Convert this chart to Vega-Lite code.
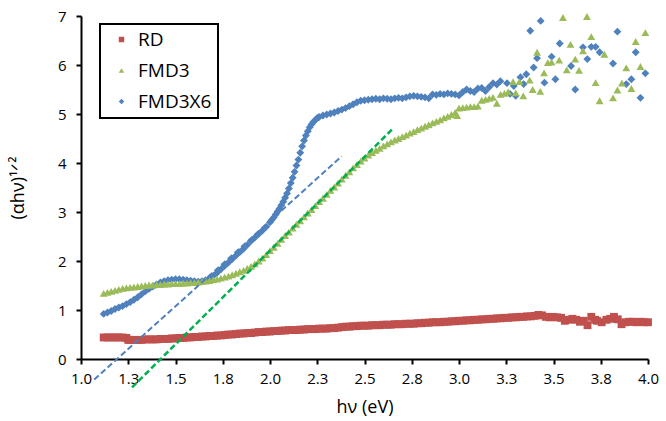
{
  "$schema": "https://vega.github.io/schema/vega-lite/v6.json",
  "autosize": {"type": "none"},
  "padding": {"left": 81, "top": 16, "right": 18, "bottom": 62},
  "width": 567,
  "height": 343,
  "config": {
    "view": {"stroke": null},
    "font": "Open Sans",
    "axis": {
      "grid": false,
      "domainColor": "black",
      "domainWidth": 2,
      "tickColor": "black",
      "tickWidth": 2,
      "tickSize": 5,
      "labelColor": "black",
      "labelFont": "Open Sans",
      "labelFontSize": 15,
      "labelFlush": false,
      "titleColor": "black",
      "titleFont": "Open Sans",
      "titleFontSize": 18,
      "titleFontWeight": "normal"
    },
    "legend": {
      "strokeColor": "black",
      "strokeWidth": 2,
      "fillColor": "white",
      "padding": 6,
      "rowPadding": 11,
      "labelFont": "Open Sans",
      "labelFontSize": 19,
      "labelColor": "black",
      "symbolSize": 30,
      "symbolOffset": 6,
      "labelOffset": 7,
      "symbolStrokeWidth": 0
    }
  },
  "datasets": {
    "spectra": [
      {"s":"RD","x":1.12,"y":0.44},{"s":"RD","x":1.14,"y":0.44},{"s":"RD","x":1.16,"y":0.44},{"s":"RD","x":1.18,"y":0.44},{"s":"RD","x":1.20,"y":0.44},{"s":"RD","x":1.22,"y":0.44},{"s":"RD","x":1.24,"y":0.43},{"s":"RD","x":1.25,"y":0.39},{"s":"RD","x":1.26,"y":0.39},{"s":"RD","x":1.28,"y":0.39},{"s":"RD","x":1.30,"y":0.39},{"s":"RD","x":1.32,"y":0.39},{"s":"RD","x":1.34,"y":0.40},{"s":"RD","x":1.36,"y":0.40},{"s":"RD","x":1.38,"y":0.40},{"s":"RD","x":1.40,"y":0.40},{"s":"RD","x":1.42,"y":0.41},{"s":"RD","x":1.44,"y":0.41},{"s":"RD","x":1.46,"y":0.41},{"s":"RD","x":1.48,"y":0.42},{"s":"RD","x":1.50,"y":0.42},{"s":"RD","x":1.52,"y":0.43},{"s":"RD","x":1.54,"y":0.43},{"s":"RD","x":1.56,"y":0.44},{"s":"RD","x":1.58,"y":0.44},{"s":"RD","x":1.60,"y":0.45},{"s":"RD","x":1.62,"y":0.45},{"s":"RD","x":1.64,"y":0.46},{"s":"RD","x":1.66,"y":0.46},{"s":"RD","x":1.68,"y":0.47},{"s":"RD","x":1.70,"y":0.47},{"s":"RD","x":1.72,"y":0.48},{"s":"RD","x":1.74,"y":0.48},{"s":"RD","x":1.76,"y":0.49},{"s":"RD","x":1.78,"y":0.50},{"s":"RD","x":1.80,"y":0.50},{"s":"RD","x":1.82,"y":0.51},{"s":"RD","x":1.84,"y":0.52},{"s":"RD","x":1.86,"y":0.52},{"s":"RD","x":1.88,"y":0.53},{"s":"RD","x":1.90,"y":0.53},{"s":"RD","x":1.92,"y":0.54},{"s":"RD","x":1.94,"y":0.55},{"s":"RD","x":1.96,"y":0.55},{"s":"RD","x":1.98,"y":0.56},{"s":"RD","x":2.00,"y":0.56},{"s":"RD","x":2.02,"y":0.57},{"s":"RD","x":2.04,"y":0.57},{"s":"RD","x":2.06,"y":0.58},{"s":"RD","x":2.08,"y":0.58},{"s":"RD","x":2.10,"y":0.59},{"s":"RD","x":2.12,"y":0.59},{"s":"RD","x":2.14,"y":0.59},{"s":"RD","x":2.16,"y":0.60},{"s":"RD","x":2.18,"y":0.60},{"s":"RD","x":2.20,"y":0.61},{"s":"RD","x":2.22,"y":0.61},{"s":"RD","x":2.24,"y":0.61},{"s":"RD","x":2.26,"y":0.62},{"s":"RD","x":2.28,"y":0.62},{"s":"RD","x":2.30,"y":0.62},{"s":"RD","x":2.32,"y":0.63},{"s":"RD","x":2.34,"y":0.63},{"s":"RD","x":2.36,"y":0.64},{"s":"RD","x":2.38,"y":0.65},{"s":"RD","x":2.40,"y":0.66},{"s":"RD","x":2.42,"y":0.66},{"s":"RD","x":2.44,"y":0.67},{"s":"RD","x":2.46,"y":0.67},{"s":"RD","x":2.48,"y":0.68},{"s":"RD","x":2.50,"y":0.68},{"s":"RD","x":2.52,"y":0.68},{"s":"RD","x":2.54,"y":0.69},{"s":"RD","x":2.56,"y":0.69},{"s":"RD","x":2.58,"y":0.69},{"s":"RD","x":2.60,"y":0.70},{"s":"RD","x":2.62,"y":0.70},{"s":"RD","x":2.64,"y":0.70},{"s":"RD","x":2.66,"y":0.71},{"s":"RD","x":2.68,"y":0.71},{"s":"RD","x":2.70,"y":0.71},{"s":"RD","x":2.72,"y":0.72},{"s":"RD","x":2.74,"y":0.72},{"s":"RD","x":2.76,"y":0.72},{"s":"RD","x":2.78,"y":0.73},{"s":"RD","x":2.80,"y":0.73},{"s":"RD","x":2.82,"y":0.74},{"s":"RD","x":2.84,"y":0.74},{"s":"RD","x":2.86,"y":0.75},{"s":"RD","x":2.88,"y":0.75},{"s":"RD","x":2.90,"y":0.75},{"s":"RD","x":2.92,"y":0.76},{"s":"RD","x":2.94,"y":0.76},{"s":"RD","x":2.96,"y":0.77},{"s":"RD","x":2.98,"y":0.77},{"s":"RD","x":3.00,"y":0.78},{"s":"RD","x":3.02,"y":0.78},{"s":"RD","x":3.04,"y":0.79},{"s":"RD","x":3.06,"y":0.79},{"s":"RD","x":3.08,"y":0.80},{"s":"RD","x":3.10,"y":0.80},{"s":"RD","x":3.12,"y":0.81},{"s":"RD","x":3.14,"y":0.81},{"s":"RD","x":3.16,"y":0.82},{"s":"RD","x":3.18,"y":0.82},{"s":"RD","x":3.20,"y":0.83},{"s":"RD","x":3.22,"y":0.83},{"s":"RD","x":3.24,"y":0.84},{"s":"RD","x":3.26,"y":0.84},{"s":"RD","x":3.28,"y":0.85},{"s":"RD","x":3.30,"y":0.85},{"s":"RD","x":3.32,"y":0.86},{"s":"RD","x":3.34,"y":0.86},{"s":"RD","x":3.36,"y":0.87},{"s":"RD","x":3.38,"y":0.87},{"s":"RD","x":3.40,"y":0.88},{"s":"RD","x":3.42,"y":0.90},{"s":"RD","x":3.44,"y":0.89},{"s":"RD","x":3.46,"y":0.86},{"s":"RD","x":3.48,"y":0.85},{"s":"RD","x":3.50,"y":0.86},{"s":"RD","x":3.52,"y":0.85},{"s":"RD","x":3.54,"y":0.84},{"s":"RD","x":3.56,"y":0.78},{"s":"RD","x":3.58,"y":0.80},{"s":"RD","x":3.60,"y":0.82},{"s":"RD","x":3.62,"y":0.80},{"s":"RD","x":3.64,"y":0.76},{"s":"RD","x":3.66,"y":0.78},{"s":"RD","x":3.68,"y":0.69},{"s":"RD","x":3.70,"y":0.86},{"s":"RD","x":3.72,"y":0.80},{"s":"RD","x":3.73,"y":0.78},{"s":"RD","x":3.755,"y":0.75},{"s":"RD","x":3.78,"y":0.80},{"s":"RD","x":3.80,"y":0.82},{"s":"RD","x":3.82,"y":0.86},{"s":"RD","x":3.84,"y":0.81},{"s":"RD","x":3.86,"y":0.71},{"s":"RD","x":3.88,"y":0.75},{"s":"RD","x":3.90,"y":0.76},{"s":"RD","x":3.92,"y":0.76},{"s":"RD","x":3.94,"y":0.75},{"s":"RD","x":3.96,"y":0.76},{"s":"RD","x":3.98,"y":0.75},{"s":"RD","x":4.00,"y":0.75},

      {"s":"FMD3","x":1.12,"y":1.34},{"s":"FMD3","x":1.14,"y":1.36},{"s":"FMD3","x":1.16,"y":1.38},{"s":"FMD3","x":1.18,"y":1.40},{"s":"FMD3","x":1.20,"y":1.42},{"s":"FMD3","x":1.22,"y":1.44},{"s":"FMD3","x":1.24,"y":1.45},{"s":"FMD3","x":1.26,"y":1.46},{"s":"FMD3","x":1.28,"y":1.47},{"s":"FMD3","x":1.30,"y":1.48},{"s":"FMD3","x":1.32,"y":1.49},{"s":"FMD3","x":1.34,"y":1.50},{"s":"FMD3","x":1.36,"y":1.51},{"s":"FMD3","x":1.38,"y":1.51},{"s":"FMD3","x":1.40,"y":1.52},{"s":"FMD3","x":1.42,"y":1.52},{"s":"FMD3","x":1.44,"y":1.53},{"s":"FMD3","x":1.46,"y":1.53},{"s":"FMD3","x":1.48,"y":1.54},{"s":"FMD3","x":1.50,"y":1.54},{"s":"FMD3","x":1.52,"y":1.54},{"s":"FMD3","x":1.54,"y":1.55},{"s":"FMD3","x":1.56,"y":1.55},{"s":"FMD3","x":1.58,"y":1.56},{"s":"FMD3","x":1.60,"y":1.56},{"s":"FMD3","x":1.62,"y":1.57},{"s":"FMD3","x":1.64,"y":1.58},{"s":"FMD3","x":1.66,"y":1.59},{"s":"FMD3","x":1.68,"y":1.60},{"s":"FMD3","x":1.70,"y":1.62},{"s":"FMD3","x":1.72,"y":1.63},{"s":"FMD3","x":1.74,"y":1.65},{"s":"FMD3","x":1.76,"y":1.67},{"s":"FMD3","x":1.78,"y":1.69},{"s":"FMD3","x":1.80,"y":1.72},{"s":"FMD3","x":1.82,"y":1.75},{"s":"FMD3","x":1.84,"y":1.78},{"s":"FMD3","x":1.86,"y":1.81},{"s":"FMD3","x":1.88,"y":1.85},{"s":"FMD3","x":1.90,"y":1.89},{"s":"FMD3","x":1.92,"y":1.94},{"s":"FMD3","x":1.94,"y":2.00},{"s":"FMD3","x":1.96,"y":2.06},{"s":"FMD3","x":1.98,"y":2.13},{"s":"FMD3","x":2.00,"y":2.21},{"s":"FMD3","x":2.02,"y":2.28},{"s":"FMD3","x":2.04,"y":2.36},{"s":"FMD3","x":2.06,"y":2.44},{"s":"FMD3","x":2.08,"y":2.52},{"s":"FMD3","x":2.10,"y":2.59},{"s":"FMD3","x":2.12,"y":2.67},{"s":"FMD3","x":2.14,"y":2.75},{"s":"FMD3","x":2.16,"y":2.82},{"s":"FMD3","x":2.18,"y":2.90},{"s":"FMD3","x":2.20,"y":2.98},{"s":"FMD3","x":2.22,"y":3.05},{"s":"FMD3","x":2.24,"y":3.13},{"s":"FMD3","x":2.26,"y":3.21},{"s":"FMD3","x":2.28,"y":3.28},{"s":"FMD3","x":2.30,"y":3.36},{"s":"FMD3","x":2.32,"y":3.44},{"s":"FMD3","x":2.34,"y":3.51},{"s":"FMD3","x":2.36,"y":3.59},{"s":"FMD3","x":2.38,"y":3.67},{"s":"FMD3","x":2.40,"y":3.75},{"s":"FMD3","x":2.42,"y":3.82},{"s":"FMD3","x":2.44,"y":3.90},{"s":"FMD3","x":2.46,"y":3.97},{"s":"FMD3","x":2.48,"y":4.04},{"s":"FMD3","x":2.50,"y":4.10},{"s":"FMD3","x":2.52,"y":4.16},{"s":"FMD3","x":2.54,"y":4.21},{"s":"FMD3","x":2.56,"y":4.26},{"s":"FMD3","x":2.58,"y":4.30},{"s":"FMD3","x":2.60,"y":4.35},{"s":"FMD3","x":2.62,"y":4.39},{"s":"FMD3","x":2.64,"y":4.43},{"s":"FMD3","x":2.66,"y":4.47},{"s":"FMD3","x":2.68,"y":4.50},{"s":"FMD3","x":2.70,"y":4.54},{"s":"FMD3","x":2.72,"y":4.57},{"s":"FMD3","x":2.74,"y":4.61},{"s":"FMD3","x":2.76,"y":4.64},{"s":"FMD3","x":2.78,"y":4.68},{"s":"FMD3","x":2.80,"y":4.71},{"s":"FMD3","x":2.82,"y":4.75},{"s":"FMD3","x":2.84,"y":4.78},{"s":"FMD3","x":2.86,"y":4.82},{"s":"FMD3","x":2.88,"y":4.85},{"s":"FMD3","x":2.90,"y":4.88},{"s":"FMD3","x":2.92,"y":4.92},{"s":"FMD3","x":2.94,"y":4.95},{"s":"FMD3","x":2.96,"y":4.99},{"s":"FMD3","x":2.98,"y":5.03},{"s":"FMD3","x":2.99,"y":4.97},{"s":"FMD3","x":3.00,"y":5.12},{"s":"FMD3","x":3.02,"y":5.13},{"s":"FMD3","x":3.04,"y":5.14},{"s":"FMD3","x":3.06,"y":5.15},{"s":"FMD3","x":3.08,"y":5.15},{"s":"FMD3","x":3.10,"y":5.16},{"s":"FMD3","x":3.12,"y":5.28},{"s":"FMD3","x":3.14,"y":5.30},{"s":"FMD3","x":3.16,"y":5.32},{"s":"FMD3","x":3.18,"y":5.34},{"s":"FMD3","x":3.20,"y":5.22},{"s":"FMD3","x":3.22,"y":5.40},{"s":"FMD3","x":3.24,"y":5.42},{"s":"FMD3","x":3.26,"y":5.45},{"s":"FMD3","x":3.286,"y":5.66},{"s":"FMD3","x":3.30,"y":5.43},{"s":"FMD3","x":3.32,"y":5.66},{"s":"FMD3","x":3.34,"y":5.37},{"s":"FMD3","x":3.374,"y":5.69},{"s":"FMD3","x":3.39,"y":5.50},{"s":"FMD3","x":3.413,"y":6.26},{"s":"FMD3","x":3.43,"y":5.46},{"s":"FMD3","x":3.45,"y":5.84},{"s":"FMD3","x":3.47,"y":6.05},{"s":"FMD3","x":3.49,"y":6.06},{"s":"FMD3","x":3.53,"y":6.10},{"s":"FMD3","x":3.55,"y":6.97},{"s":"FMD3","x":3.57,"y":5.90},{"s":"FMD3","x":3.59,"y":6.42},{"s":"FMD3","x":3.615,"y":6.12},{"s":"FMD3","x":3.635,"y":5.89},{"s":"FMD3","x":3.656,"y":6.29},{"s":"FMD3","x":3.677,"y":6.99},{"s":"FMD3","x":3.70,"y":6.58},{"s":"FMD3","x":3.723,"y":5.64},{"s":"FMD3","x":3.744,"y":5.27},{"s":"FMD3","x":3.769,"y":6.22},{"s":"FMD3","x":3.815,"y":5.33},{"s":"FMD3","x":3.838,"y":5.49},{"s":"FMD3","x":3.862,"y":5.63},{"s":"FMD3","x":3.885,"y":5.94},{"s":"FMD3","x":3.912,"y":5.52},{"s":"FMD3","x":3.935,"y":6.48},{"s":"FMD3","x":3.96,"y":5.97},{"s":"FMD3","x":3.986,"y":6.66},

      {"s":"FMD3X6","x":1.12,"y":0.92},{"s":"FMD3X6","x":1.14,"y":0.95},{"s":"FMD3X6","x":1.16,"y":0.98},{"s":"FMD3X6","x":1.18,"y":1.02},{"s":"FMD3X6","x":1.20,"y":1.05},{"s":"FMD3X6","x":1.22,"y":1.08},{"s":"FMD3X6","x":1.24,"y":1.12},{"s":"FMD3X6","x":1.26,"y":1.16},{"s":"FMD3X6","x":1.28,"y":1.21},{"s":"FMD3X6","x":1.30,"y":1.26},{"s":"FMD3X6","x":1.32,"y":1.32},{"s":"FMD3X6","x":1.34,"y":1.38},{"s":"FMD3X6","x":1.36,"y":1.43},{"s":"FMD3X6","x":1.38,"y":1.48},{"s":"FMD3X6","x":1.40,"y":1.52},{"s":"FMD3X6","x":1.42,"y":1.56},{"s":"FMD3X6","x":1.44,"y":1.59},{"s":"FMD3X6","x":1.46,"y":1.61},{"s":"FMD3X6","x":1.48,"y":1.62},{"s":"FMD3X6","x":1.50,"y":1.63},{"s":"FMD3X6","x":1.52,"y":1.63},{"s":"FMD3X6","x":1.54,"y":1.62},{"s":"FMD3X6","x":1.56,"y":1.61},{"s":"FMD3X6","x":1.58,"y":1.60},{"s":"FMD3X6","x":1.60,"y":1.59},{"s":"FMD3X6","x":1.62,"y":1.58},{"s":"FMD3X6","x":1.64,"y":1.59},{"s":"FMD3X6","x":1.66,"y":1.61},{"s":"FMD3X6","x":1.68,"y":1.65},{"s":"FMD3X6","x":1.70,"y":1.70},{"s":"FMD3X6","x":1.72,"y":1.76},{"s":"FMD3X6","x":1.74,"y":1.83},{"s":"FMD3X6","x":1.76,"y":1.90},{"s":"FMD3X6","x":1.78,"y":1.97},{"s":"FMD3X6","x":1.80,"y":2.04},{"s":"FMD3X6","x":1.82,"y":2.11},{"s":"FMD3X6","x":1.84,"y":2.18},{"s":"FMD3X6","x":1.86,"y":2.25},{"s":"FMD3X6","x":1.88,"y":2.33},{"s":"FMD3X6","x":1.90,"y":2.41},{"s":"FMD3X6","x":1.92,"y":2.48},{"s":"FMD3X6","x":1.94,"y":2.55},{"s":"FMD3X6","x":1.96,"y":2.62},{"s":"FMD3X6","x":1.98,"y":2.70},{"s":"FMD3X6","x":2.00,"y":2.79},{"s":"FMD3X6","x":2.01,"y":2.84},{"s":"FMD3X6","x":2.02,"y":2.89},{"s":"FMD3X6","x":2.03,"y":2.95},{"s":"FMD3X6","x":2.04,"y":3.01},{"s":"FMD3X6","x":2.05,"y":3.07},{"s":"FMD3X6","x":2.06,"y":3.14},{"s":"FMD3X6","x":2.07,"y":3.21},{"s":"FMD3X6","x":2.08,"y":3.29},{"s":"FMD3X6","x":2.09,"y":3.38},{"s":"FMD3X6","x":2.10,"y":3.48},{"s":"FMD3X6","x":2.11,"y":3.59},{"s":"FMD3X6","x":2.12,"y":3.70},{"s":"FMD3X6","x":2.13,"y":3.82},{"s":"FMD3X6","x":2.14,"y":3.95},{"s":"FMD3X6","x":2.15,"y":4.07},{"s":"FMD3X6","x":2.16,"y":4.21},{"s":"FMD3X6","x":2.17,"y":4.34},{"s":"FMD3X6","x":2.18,"y":4.46},{"s":"FMD3X6","x":2.19,"y":4.56},{"s":"FMD3X6","x":2.20,"y":4.65},{"s":"FMD3X6","x":2.21,"y":4.73},{"s":"FMD3X6","x":2.22,"y":4.79},{"s":"FMD3X6","x":2.23,"y":4.84},{"s":"FMD3X6","x":2.24,"y":4.88},{"s":"FMD3X6","x":2.25,"y":4.92},{"s":"FMD3X6","x":2.26,"y":4.94},{"s":"FMD3X6","x":2.28,"y":4.97},{"s":"FMD3X6","x":2.30,"y":4.99},{"s":"FMD3X6","x":2.32,"y":5.01},{"s":"FMD3X6","x":2.34,"y":5.03},{"s":"FMD3X6","x":2.36,"y":5.06},{"s":"FMD3X6","x":2.38,"y":5.09},{"s":"FMD3X6","x":2.40,"y":5.12},{"s":"FMD3X6","x":2.42,"y":5.16},{"s":"FMD3X6","x":2.44,"y":5.20},{"s":"FMD3X6","x":2.46,"y":5.24},{"s":"FMD3X6","x":2.48,"y":5.27},{"s":"FMD3X6","x":2.50,"y":5.28},{"s":"FMD3X6","x":2.52,"y":5.29},{"s":"FMD3X6","x":2.54,"y":5.30},{"s":"FMD3X6","x":2.56,"y":5.31},{"s":"FMD3X6","x":2.58,"y":5.30},{"s":"FMD3X6","x":2.60,"y":5.32},{"s":"FMD3X6","x":2.62,"y":5.31},{"s":"FMD3X6","x":2.64,"y":5.30},{"s":"FMD3X6","x":2.66,"y":5.32},{"s":"FMD3X6","x":2.68,"y":5.33},{"s":"FMD3X6","x":2.70,"y":5.32},{"s":"FMD3X6","x":2.72,"y":5.34},{"s":"FMD3X6","x":2.74,"y":5.36},{"s":"FMD3X6","x":2.76,"y":5.37},{"s":"FMD3X6","x":2.78,"y":5.36},{"s":"FMD3X6","x":2.80,"y":5.35},{"s":"FMD3X6","x":2.82,"y":5.34},{"s":"FMD3X6","x":2.84,"y":5.32},{"s":"FMD3X6","x":2.86,"y":5.40},{"s":"FMD3X6","x":2.88,"y":5.39},{"s":"FMD3X6","x":2.90,"y":5.41},{"s":"FMD3X6","x":2.92,"y":5.40},{"s":"FMD3X6","x":2.94,"y":5.42},{"s":"FMD3X6","x":2.96,"y":5.41},{"s":"FMD3X6","x":2.98,"y":5.40},{"s":"FMD3X6","x":3.00,"y":5.38},{"s":"FMD3X6","x":3.02,"y":5.45},{"s":"FMD3X6","x":3.04,"y":5.50},{"s":"FMD3X6","x":3.06,"y":5.47},{"s":"FMD3X6","x":3.08,"y":5.45},{"s":"FMD3X6","x":3.10,"y":5.52},{"s":"FMD3X6","x":3.12,"y":5.53},{"s":"FMD3X6","x":3.14,"y":5.47},{"s":"FMD3X6","x":3.16,"y":5.55},{"s":"FMD3X6","x":3.18,"y":5.63},{"s":"FMD3X6","x":3.20,"y":5.60},{"s":"FMD3X6","x":3.219,"y":5.67},{"s":"FMD3X6","x":3.254,"y":5.63},{"s":"FMD3X6","x":3.27,"y":5.41},{"s":"FMD3X6","x":3.29,"y":5.57},{"s":"FMD3X6","x":3.30,"y":5.37},{"s":"FMD3X6","x":3.325,"y":5.75},{"s":"FMD3X6","x":3.342,"y":5.61},{"s":"FMD3X6","x":3.356,"y":5.81},{"s":"FMD3X6","x":3.377,"y":6.70},{"s":"FMD3X6","x":3.395,"y":5.95},{"s":"FMD3X6","x":3.413,"y":6.14},{"s":"FMD3X6","x":3.432,"y":6.90},{"s":"FMD3X6","x":3.452,"y":5.64},{"s":"FMD3X6","x":3.49,"y":6.17},{"s":"FMD3X6","x":3.51,"y":5.71},{"s":"FMD3X6","x":3.533,"y":6.44},{"s":"FMD3X6","x":3.593,"y":5.98},{"s":"FMD3X6","x":3.615,"y":5.50},{"s":"FMD3X6","x":3.656,"y":6.36},{"s":"FMD3X6","x":3.679,"y":6.12},{"s":"FMD3X6","x":3.70,"y":6.37},{"s":"FMD3X6","x":3.723,"y":6.37},{"s":"FMD3X6","x":3.744,"y":6.26},{"s":"FMD3X6","x":3.815,"y":6.03},{"s":"FMD3X6","x":3.838,"y":6.68},{"s":"FMD3X6","x":3.885,"y":5.61},{"s":"FMD3X6","x":3.912,"y":5.71},{"s":"FMD3X6","x":3.935,"y":6.26},{"s":"FMD3X6","x":3.96,"y":5.33},{"s":"FMD3X6","x":3.986,"y":5.83}
    ],
    "fitFMD3X6": [{"x":1.07,"y":-0.42},{"x":2.38,"y":4.14}],
    "fitFMD3": [{"x":1.27,"y":-0.58},{"x":2.65,"y":4.70}]
  },
  "layer": [
    {
      "data": {"name": "spectra"},
      "mark": {"type": "point", "filled": true, "opacity": 1, "size": 62},
      "encoding": {
        "x": {
          "field": "x", "type": "quantitative",
          "scale": {"domain": [1, 4], "nice": false, "zero": false},
          "axis": {
            "title": "hν (eV)",
            "values": [1, 1.25, 1.5, 1.75, 2, 2.25, 2.5, 2.75, 3, 3.25, 3.5, 3.75, 4],
            "format": ".1f",
            "labelPadding": 7,
            "titlePadding": 12
          }
        },
        "y": {
          "field": "y", "type": "quantitative",
          "scale": {"domain": [0, 7], "nice": false},
          "axis": {
            "title": "(αhν)¹ᐟ²",
            "values": [0, 1, 2, 3, 4, 5, 6, 7],
            "format": "d",
            "labelPadding": 10,
            "titlePadding": 30
          }
        },
        "color": {
          "field": "s", "type": "nominal",
          "scale": {"domain": ["RD", "FMD3", "FMD3X6"], "range": ["#c0504d", "#9bbb59", "#4f81bd"]},
          "legend": {
            "title": null,
            "orient": "none",
            "legendX": 19,
            "legendY": 8,
            "labelExpr": "datum.label + '\u00a0\u00a0\u00a0'"
          }
        },
        "shape": {
          "field": "s", "type": "nominal",
          "scale": {"domain": ["RD", "FMD3", "FMD3X6"], "range": ["square", "triangle-up", "diamond"]},
          "legend": {
            "title": null,
            "orient": "none",
            "legendX": 19,
            "legendY": 8,
            "labelExpr": "datum.label + '\u00a0\u00a0\u00a0'"
          }
        },
        "order": {"field": "s", "sort": "descending"}
      }
    },
    {
      "data": {"name": "fitFMD3X6"},
      "mark": {"type": "line", "color": "#4f81bd", "strokeWidth": 2, "strokeDash": [6, 3]},
      "encoding": {
        "x": {"field": "x", "type": "quantitative"},
        "y": {"field": "y", "type": "quantitative"}
      }
    },
    {
      "data": {"name": "fitFMD3"},
      "mark": {"type": "line", "color": "#00b050", "strokeWidth": 2.5, "strokeDash": [6, 3]},
      "encoding": {
        "x": {"field": "x", "type": "quantitative"},
        "y": {"field": "y", "type": "quantitative"}
      }
    }
  ]
}
